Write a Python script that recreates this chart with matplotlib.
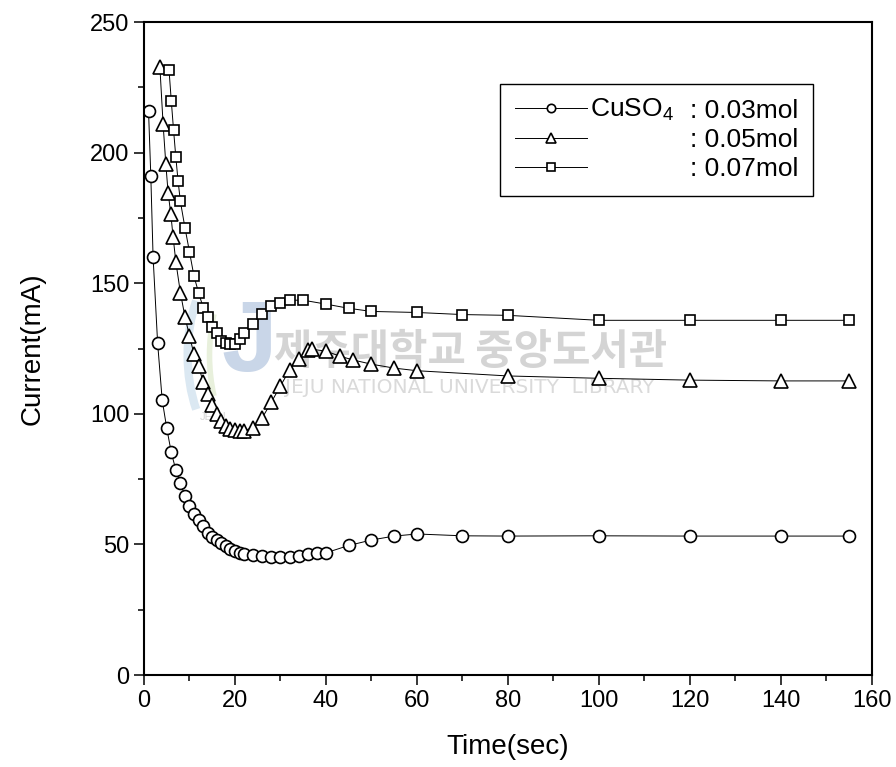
import matplotlib
matplotlib.use('Agg')
import matplotlib.pyplot as plt
from matplotlib.ticker import MultipleLocator
from matplotlib.patches import Arc

plt.rcParams['font.family'] = ['Liberation Sans', 'DejaVu Sans']
plt.rcParams['mathtext.fontset'] = 'custom'
plt.rcParams['mathtext.rm'] = 'Liberation Sans'
plt.rcParams['mathtext.it'] = 'Liberation Sans:italic'

# CuSO4 0.03 mol
t_03 = [1, 1.5, 2, 3, 4, 5, 6, 7, 8, 9, 10, 11, 12, 13,
        14, 15, 16, 17, 18, 19, 20, 21, 22, 24, 26, 28, 30, 32, 34, 36, 38, 40,
        45, 50, 55, 60, 70, 80, 100, 120, 140, 155]
i_03 = [216, 191, 160, 127, 105.3, 94.5, 85.2, 78.5, 73.6, 68.5, 64.7, 61.5, 59.3, 57,
        54.5, 53, 51.8, 50.5, 49.3, 48.2, 47.4, 46.8, 46.3, 45.8, 45.5, 45.3, 45.3, 45.3, 45.5, 46.2, 46.6, 46.8,
        49.6, 51.7, 53.2, 54, 53.3, 53.2, 53.3, 53.2, 53.2, 53.2]

# CuSO4 0.05 mol
t_05 = [3.5, 4.2, 4.8, 5.3, 5.9, 6.4, 7,
        8, 9, 10, 11, 12, 13, 14, 15, 16, 17, 18, 19, 20, 21, 22,
        24, 26, 28, 30, 32, 34, 36,
        37, 40, 43, 46, 50, 55, 60,
        80, 100, 120, 140, 155]
i_05 = [232.6, 210.9, 195.6, 184.7, 176.4, 167.7, 158.2,
        146.4, 137.2, 129.8, 122.8, 118.3, 112.2, 107.5, 103.4, 100, 97.3, 95.3, 94.3, 93.7, 93.4, 93.6,
        94.7, 98.5, 104.5, 110.7, 116.8, 121.1, 124.3,
        124.7, 124, 122.1, 120.6, 119, 117.5, 116.5,
        114.5, 113.6, 112.9, 112.6, 112.6]

# CuSO4 0.07 mol
t_07 = [5.5, 6, 6.5, 7, 7.5, 8,
        9, 10, 11, 12, 13, 14, 15, 16, 17, 18, 19, 20, 21, 22,
        24, 26, 28, 30, 32, 35, 40, 45, 50, 60, 70, 80,
        100, 120, 140, 155]
i_07 = [231.7, 219.8, 208.6, 198.2, 189, 181.3,
        171.3, 162, 152.6, 146.4, 140.7, 136.9, 133.3, 130.8, 128, 127.3, 126.8, 126.7, 128.5, 130.8,
        134.3, 138.1, 141.3, 142.6, 143.5, 143.5, 142, 140.4, 139.2, 138.8, 138, 137.7,
        135.8, 135.8, 135.8, 135.8]

labels = [': 0.03mol', ': 0.05mol', ': 0.07mol']

fig = plt.figure(figsize=(8.96, 7.67), dpi=100)
ax = fig.add_axes([0.1607, 0.1199, 0.8125, 0.8514])

# library watermark behind the curves
ax.text(0.448, 0.495, '제주대학교 중앙도서관', transform=ax.transAxes,
        family=['Noto Sans CJK KR', 'DejaVu Sans'], fontsize=30, fontweight='bold',
        color='#d4d4d4', ha='center', va='center', zorder=0)
ax.text(0.448, 0.44, 'JEJU NATIONAL UNIVERSITY  LIBRARY', transform=ax.transAxes,
        family=['DejaVu Sans'], fontsize=14.5, color='#dadada',
        ha='center', va='center', zorder=0)
ax.add_patch(Arc((0.13, 0.49), 0.14, 0.30, theta1=125, theta2=235, transform=ax.transAxes,
                 color='#dbe8f2', lw=6, zorder=0))
ax.add_patch(Arc((0.14, 0.49), 0.10, 0.26, theta1=125, theta2=235, transform=ax.transAxes,
                 color='#e8f0dc', lw=4, zorder=0))
ax.text(0.145, 0.505, 'J', transform=ax.transAxes, fontsize=72, fontweight='bold',
        color='#c9d6e8', ha='center', va='center', zorder=0)
ax.text(0.095, 0.395, 'JEJU', transform=ax.transAxes, fontsize=8,
        color='#d6d6d6', ha='center', va='center', zorder=0)

style = dict(color='black', lw=0.7, mfc='white', mec='black', mew=1.2)
h1, = ax.plot(t_03, i_03, marker='o', ms=8.6, **style)
h2, = ax.plot(t_05, i_05, marker='^', ms=9.5, **style)
h3, = ax.plot(t_07, i_07, marker='s', ms=7.8, **style)

ax.set_xlim(0, 160)
ax.set_ylim(0, 250)
ax.xaxis.set_major_locator(MultipleLocator(20))
ax.xaxis.set_minor_locator(MultipleLocator(10))
ax.yaxis.set_major_locator(MultipleLocator(50))
ax.yaxis.set_minor_locator(MultipleLocator(25))
ax.tick_params(which='major', direction='out', length=7, width=1.1, labelsize=17)
ax.tick_params(which='minor', direction='out', length=4, width=1.1)
for sp in ax.spines.values():
    sp.set_linewidth(1.5)

ax.set_xlabel('Time(sec)', fontsize=20, labelpad=16)
ax.set_ylabel('Current(mA)', fontsize=20, labelpad=32)

leg = ax.legend([h1, h2, h3], labels, loc='upper right', bbox_to_anchor=(0.919, 0.905),
                fontsize=19, markerscale=0.7, handlelength=2.75, handletextpad=3.9,
                borderpad=0.55, labelspacing=0.2, borderaxespad=0,
                frameon=True, fancybox=False, framealpha=1, edgecolor='black')
leg.get_frame().set_linewidth(1.0)

ax.annotate('CuSO$_4$', xy=(0, 0), xycoords=leg.get_texts()[0],
            xytext=(-12, 0), textcoords='offset points',
            ha='right', va='bottom', fontsize=19, zorder=10)

fig.savefig('out.png', dpi=100)
